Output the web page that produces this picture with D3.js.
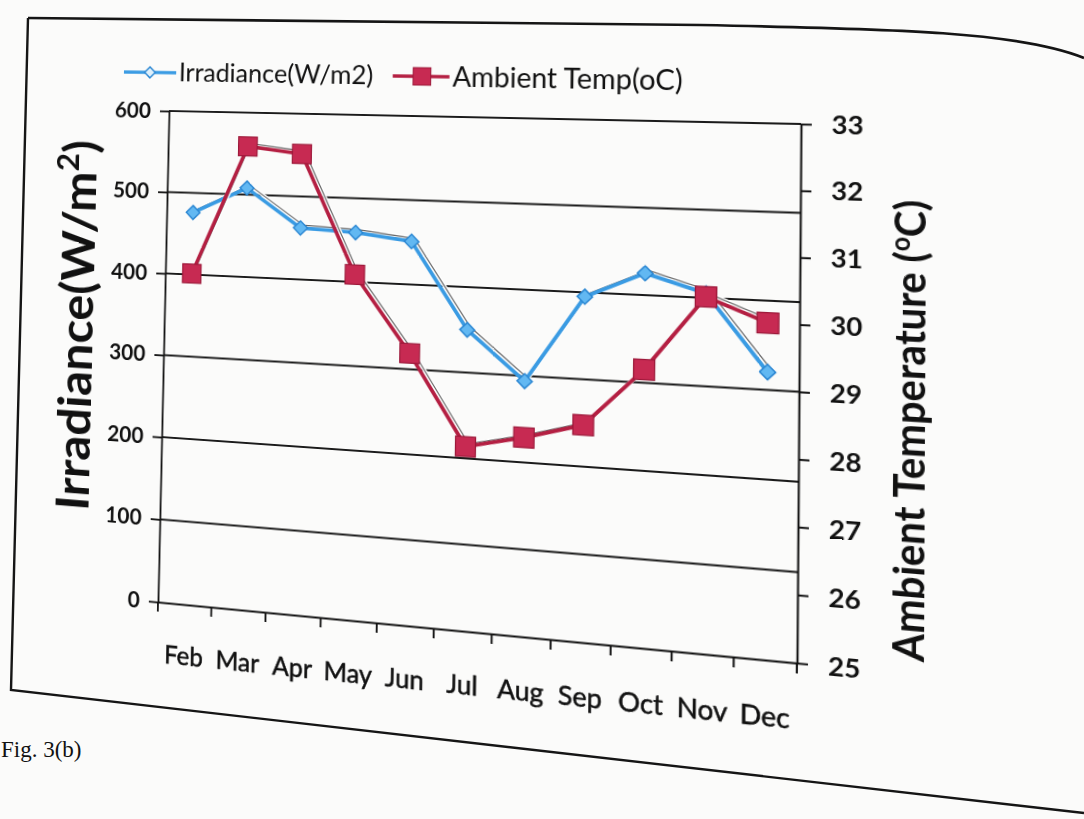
<!DOCTYPE html>
<html>
<head>
<meta charset="utf-8">
<script src="https://cdn.jsdelivr.net/npm/d3@7"></script>
<style>
  html, body { margin: 0; padding: 0; background: #fbfbfa; }
  #stage { position: absolute; left: 0; top: 0; width: 1084px; height: 819px; overflow: hidden; }
  #paper, #chart { position: absolute; left: 0; top: 0; }
  #chart { transform-origin: 0 0; }
  text { font-family: Lato, "Open Sans", sans-serif; fill: #111; }
</style>
</head>
<body>
<div id="stage">
  <svg id="paper" width="1084" height="819"></svg>
  <svg id="chart" width="1084" height="819"></svg>
</div>
<script>
// ---- data ----
const months = ["Feb", "Mar", "Apr", "May", "Jun", "Jul", "Aug", "Sep", "Oct", "Nov", "Dec"];
const irradiance = [476, 508, 462, 459, 451, 350, 294, 395, 425, 405, 320];
const ambientTemp = [30.35, 32.45, 32.35, 30.45, 29.25, 27.85, 28.05, 28.3, 29.2, 30.35, 30.0];
const irrTicks = [0, 100, 200, 300, 400, 500, 600];
const tempTicks = [25, 26, 27, 28, 29, 30, 31, 32, 33];
const seriesNames = ["Irradiance(W/m2)", "Ambient Temp(oC)"];

// flat plot box, and where its corners sit in the (photographed) picture
const plot = { left: 165, top: 111, right: 800, bottom: 630 };
const photoQuad = [[169, 111], [801, 124], [797, 663], [158, 602]];

const blue = "#3a9be3", blueFill = "#62b8f2";
const red = "#b41f42", redFill = "#c72a52";

// ---- scales ----
const x = d3.scaleBand().domain(months).range([plot.left, plot.right]);
const xc = m => x(m) + x.bandwidth() / 2;
const yIrr = d3.scaleLinear().domain([0, 600]).range([plot.bottom, plot.top]);
const yTemp = d3.scaleLinear().domain([25, 33]).range([plot.bottom, plot.top]);

const svg = d3.select("#chart");
const g = svg.append("g");

// gridlines (100..600)
g.append("g")
  .selectAll("line")
  .data(irrTicks.filter(d => d > 0))
  .join("line")
  .attr("x1", plot.left).attr("x2", plot.right)
  .attr("y1", d => yIrr(d)).attr("y2", d => yIrr(d))
  .attr("stroke", "#1b1b1b").attr("stroke-width", 1.8);

function styleAxis(sel, size) {
  sel.selectAll("path, line").attr("stroke", "#111").attr("stroke-width", 1.9);
  sel.selectAll("text")
    .style("font-size", size + "px").style("font-weight", 700).attr("fill", "#111");
}

// left axis
const leftAxis = g.append("g")
  .attr("transform", `translate(${plot.left},0)`)
  .call(d3.axisLeft(yIrr).tickValues(irrTicks).tickSize(10).tickSizeOuter(0).tickPadding(10));
styleAxis(leftAxis, 23);

// right axis
const rightAxis = g.append("g")
  .attr("transform", `translate(${plot.right},0)`)
  .call(d3.axisRight(yTemp).tickValues(tempTicks).tickSize(10).tickSizeOuter(0).tickPadding(18));
styleAxis(rightAxis, 25);

// bottom axis: labels in band centres, ticks on band edges
const bottomAxis = g.append("g")
  .attr("transform", `translate(0,${plot.bottom})`)
  .call(d3.axisBottom(x).tickSize(0).tickSizeOuter(0).tickPadding(45));
bottomAxis.selectAll("path").attr("stroke", "#111").attr("stroke-width", 1.9);
bottomAxis.selectAll("text")
  .style("font-size", "26px").style("font-weight", 400)
  .attr("stroke", "#111").attr("stroke-width", 0.5);
bottomAxis.selectAll(".edge")
  .data(months.map(m => x(m)).concat([x.range()[1]]))
  .join("line")
  .attr("class", "edge")
  .attr("x1", d => d).attr("x2", d => d)
  .attr("y1", 0).attr("y2", 10)
  .attr("stroke", "#111").attr("stroke-width", 1.9);

// ---- series ----
function drawSeries(values, yScale, color) {
  const line = d3.line().x((d, i) => xc(months[i])).y(d => yScale(d));
  const sh = g.append("g").attr("transform", "translate(3,-3)");
  sh.append("path").datum(values).attr("d", line)
    .attr("fill", "none").attr("stroke", "#fff").attr("stroke-width", 4);
  sh.append("path").datum(values).attr("d", line)
    .attr("fill", "none").attr("stroke", "#333").attr("stroke-width", 1.2).attr("opacity", 0.75);
  g.append("path").datum(values).attr("d", line)
    .attr("fill", "none").attr("stroke", color).attr("stroke-width", 3.8)
    .attr("stroke-linejoin", "round");
}

drawSeries(irradiance, yIrr, blue);
g.append("g").selectAll("path")
  .data(irradiance)
  .join("path")
  .attr("d", d3.symbol(d3.symbolSquare, 110))
  .attr("transform", (d, i) => `translate(${xc(months[i])},${yIrr(d)}) rotate(45)`)
  .attr("fill", blueFill).attr("stroke", "#2a86d2").attr("stroke-width", 1.5);

drawSeries(ambientTemp, yTemp, red);
g.append("g").selectAll("rect")
  .data(ambientTemp)
  .join("rect")
  .attr("x", (d, i) => xc(months[i]) - 10).attr("y", d => yTemp(d) - 10)
  .attr("width", 20).attr("height", 20)
  .attr("fill", redFill).attr("stroke", "#9c1839").attr("stroke-width", 1.2);

// ---- legend ----
const legend = g.append("g").attr("transform", "translate(114,70)");
const item1 = legend.append("g");
item1.append("line").attr("x1", 0).attr("x2", 58).attr("stroke", blue).attr("stroke-width", 3.4);
item1.append("path").attr("d", d3.symbol(d3.symbolSquare, 70))
  .attr("transform", "translate(29,0) rotate(45)")
  .attr("fill", "#dff0fb").attr("stroke", "#2a86d2").attr("stroke-width", 1.5);
const t1 = item1.append("text").attr("x", 61).attr("dy", "0.35em")
  .style("font-size", "27px").text(seriesNames[0]);
const w1 = t1.node().getComputedTextLength() + 61 + 20;
const item2 = legend.append("g").attr("transform", `translate(${w1},0)`);
item2.append("line").attr("x1", 0).attr("x2", 58).attr("stroke", red).attr("stroke-width", 3.4);
item2.append("rect").attr("x", 21).attr("y", -9).attr("width", 18).attr("height", 18)
  .attr("fill", redFill).attr("stroke", "#9c1839");
item2.append("text").attr("x", 61).attr("dy", "0.35em")
  .style("font-size", "28px").text(seriesNames[1]);

// ---- axis titles ----
const lt = g.append("text")
  .attr("transform", "translate(68,343) rotate(-90)")
  .attr("text-anchor", "middle").attr("dy", "0.35em")
  .style("font-size", "52px").style("font-weight", 700);
lt.append("tspan").text("Irradiance(W/m");
lt.append("tspan").attr("baseline-shift", "super").style("font-size", "34px").text("2");
lt.append("tspan").text(")");

const rt = g.append("text")
  .attr("transform", "translate(900,400) rotate(-90)")
  .attr("text-anchor", "middle").attr("dy", "0.35em")
  .style("font-size", "38px").style("font-weight", 700);
rt.append("tspan").text("Ambient Temperature (");
rt.append("tspan").attr("baseline-shift", "super").style("font-size", "24px").text("o");
rt.append("tspan").text("C)");

// ---- perspective of the photograph: map flat plot box onto the photographed quad ----
function solveHomography(src, dst) {
  const A = [], b = [];
  src.forEach(([sx, sy], i) => {
    const [X, Y] = dst[i];
    A.push([sx, sy, 1, 0, 0, 0, -X * sx, -X * sy]); b.push(X);
    A.push([0, 0, 0, sx, sy, 1, -Y * sx, -Y * sy]); b.push(Y);
  });
  const n = 8;
  for (let c = 0; c < n; c++) {
    let p = c;
    for (let r = c + 1; r < n; r++) if (Math.abs(A[r][c]) > Math.abs(A[p][c])) p = r;
    [A[c], A[p]] = [A[p], A[c]];
    [b[c], b[p]] = [b[p], b[c]];
    for (let r = 0; r < n; r++) {
      if (r === c) continue;
      const f = A[r][c] / A[c][c];
      for (let k = c; k < n; k++) A[r][k] -= f * A[c][k];
      b[r] -= f * b[c];
    }
  }
  return b.map((v, i) => v / A[i][i]);
}
const flatQuad = [[plot.left, plot.top], [plot.right, plot.top], [plot.right, plot.bottom], [plot.left, plot.bottom]];
const h = solveHomography(flatQuad, photoQuad);
d3.select("#chart").style("transform",
  `matrix3d(${h[0]},${h[3]},0,${h[6]},${h[1]},${h[4]},0,${h[7]},0,0,1,0,${h[2]},${h[5]},0,1)`);

// ---- page frame and caption (drawn straight in picture space) ----
const paper = d3.select("#paper");
paper.append("path")
  .attr("d", "M28,18 L11,690 L1084,813")
  .attr("fill", "none").attr("stroke", "#151515").attr("stroke-width", 2.4);
paper.append("path")
  .attr("d", "M28,18 L700,25 C900,29 1020,32 1084,58")
  .attr("fill", "none").attr("stroke", "#151515").attr("stroke-width", 2.6);
paper.append("text")
  .attr("x", 1).attr("y", 757)
  .style("font-family", "'Liberation Serif', serif").style("font-size", "23px")
  .text("Fig. 3(b)");
</script>
</body>
</html>
